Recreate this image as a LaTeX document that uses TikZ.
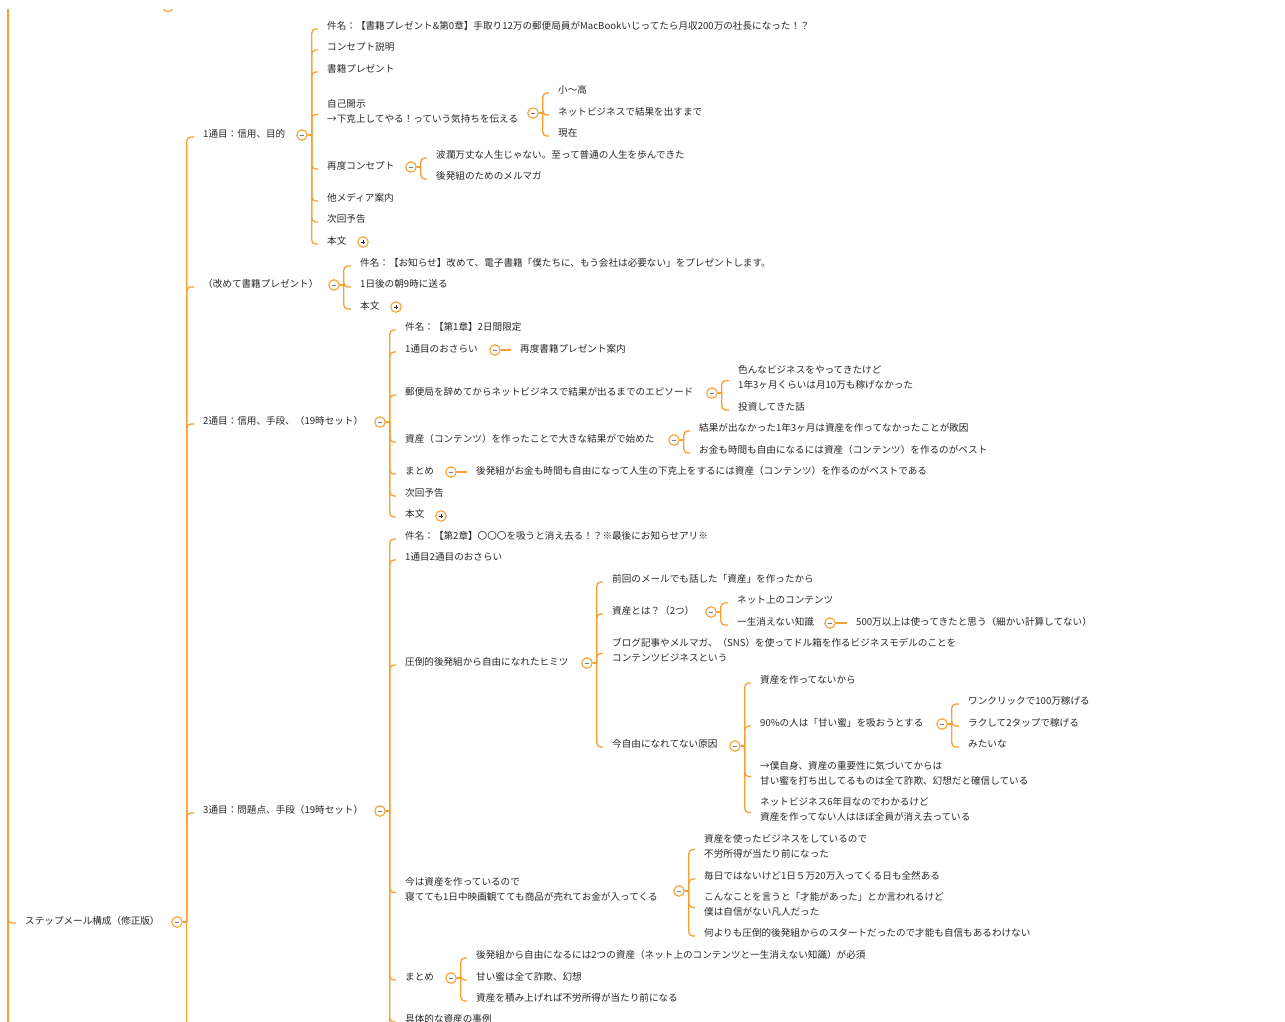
\documentclass[tikz,border=0pt]{standalone}
\usepackage{fontspec}
\setmainfont{Noto Sans CJK JP}
\usetikzlibrary{calc}
\definecolor{orng}{RGB}{247,160,48}
\definecolor{txtc}{RGB}{40,40,40}
\definecolor{minc}{RGB}{115,125,145}
\tikzset{
  txt/.style={font=\fontsize{9.6}{15}\selectfont, text=txtc, inner sep=0pt, anchor=west, align=left},
  ctl/.style={circle, draw=orng, fill=white, line width=1.1pt, minimum size=10.5pt, inner sep=0pt},
  minus/.style={ctl, path picture={\draw[minc, line width=0.8pt] ($(path picture bounding box.center)+(-2.4,0)$) -- ($(path picture bounding box.center)+(2.4,0)$);}},
  plus/.style={ctl, path picture={\draw[txtc, line width=0.8pt] ($(path picture bounding box.center)+(-2.4,0)$) -- ($(path picture bounding box.center)+(2.4,0)$) ($(path picture bounding box.center)+(0,-2.4)$) -- ($(path picture bounding box.center)+(0,2.4)$);}},
  link/.style={draw=orng, line width=1.3pt, rounded corners=4pt}
}
\newcommand\hub[1]{\draw[link] (#1.east) -- ($(#1.east)+(4,0)$);}
\newcommand\kid[2]{\draw[link] ($(#1.east)+(4,0)$) |- ($(#2.west)+(-9,3)$);}
\newcommand\single[2]{\draw[link] (#1.east) -- ($(#1.east -| #2.west)+(-9,0)$);}
\begin{document}
\begin{tikzpicture}[x=1pt,y=-1pt]
\useasboundingbox (0,0) rectangle (1285,1021);
\fill[white] (0,0) rectangle (1285,1021);

% outer trunk and partial node at top
\coordinate (topL) at (8,9);
\coordinate (botL) at (8,1030);
\begin{scope}
\clip (0,9) rectangle (1285,1021);
\node[ctl] (ctop) at (168,6.5) {};
\end{scope}

% root
\node[txt] (root) at (25,921) {ステップメール構成（修正版）};
\node[minus] (croot) at (177,922) {};
\draw[link] (topL) -- (botL);
\draw[link] (topL) |- ($(root.west)+(-9,2)$);
\hub{croot}
\coordinate (bot1) at (0,1030);
\draw[link] ($(croot.east)+(4,0)$) -- ($(croot.east |- bot1)+(4,0)$);

% level 1
\node[txt] (a1) at (203,134) {1通目：信用、目的};
\node[minus] (ca1) at (302,135) {};
\node[txt] (a2) at (203,284) {（改めて書籍プレゼント）};
\node[minus] (ca2) at (334,285) {};
\node[txt] (a3) at (203,421) {2通目：信用、手段、（19時セット）};
\node[minus] (ca3) at (380,422) {};
\node[txt] (a4) at (203,810) {3通目：問題点、手段（19時セット）};
\node[minus] (ca4) at (380,811) {};
\kid{croot}{a1}\kid{croot}{a2}\kid{croot}{a3}\kid{croot}{a4}

% ---- 1通目
\node[txt] (b1) at (327,26) {件名：【書籍プレゼント\&第0章】手取り12万の郵便局員がMacBookいじってたら月収200万の社長になった！？};
\node[txt] (b2) at (327,47) {コンセプト説明};
\node[txt] (b3) at (327,69) {書籍プレゼント};
\node[txt] (b4) at (327,111.5) {自己開示\\→下克上してやる！っていう気持ちを伝える};
\node[minus] (cb4) at (533,113) {};
\node[txt] (b41) at (558,90) {小〜高};
\node[txt] (b42) at (558,112) {ネットビジネスで結果を出すまで};
\node[txt] (b43) at (558,133) {現在};
\node[txt] (b5) at (327,166) {再度コンセプト};
\node[minus] (cb5) at (411,167) {};
\node[txt] (b51) at (436,155) {波瀾万丈な人生じゃない。至って普通の人生を歩んできた};
\node[txt] (b52) at (436,176) {後発組のためのメルマガ};
\node[txt] (b6) at (327,198) {他メディア案内};
\node[txt] (b7) at (327,219) {次回予告};
\node[txt] (b8) at (327,241) {本文};
\node[plus] (cb8) at (363,242) {};
\hub{ca1}
\kid{ca1}{b1}\kid{ca1}{b2}\kid{ca1}{b3}\kid{ca1}{b4}\kid{ca1}{b5}\kid{ca1}{b6}\kid{ca1}{b7}\kid{ca1}{b8}
\hub{cb4}\kid{cb4}{b41}\kid{cb4}{b42}\kid{cb4}{b43}
\hub{cb5}\kid{cb5}{b51}\kid{cb5}{b52}

% ---- 改めて書籍プレゼント
\node[txt] (d1) at (360,263) {件名：【お知らせ】改めて、電子書籍「僕たちに、もう会社は必要ない」をプレゼントします。};
\node[txt] (d2) at (360,284) {1日後の朝9時に送る};
\node[txt] (d3) at (360,306) {本文};
\node[plus] (cd3) at (396,307) {};
\hub{ca2}\kid{ca2}{d1}\kid{ca2}{d2}\kid{ca2}{d3}

% ---- 2通目
\node[txt] (e1) at (405,327) {件名：【第1章】2日間限定};
\node[txt] (e2) at (405,349) {1通目のおさらい};
\node[minus] (ce2) at (495,350) {};
\node[txt] (e21) at (520,349) {再度書籍プレゼント案内};
\node[txt] (e3) at (405,392) {郵便局を辞めてからネットビジネスで結果が出るまでのエピソード};
\node[minus] (ce3) at (712,393) {};
\node[txt] (e31) at (738,377.5) {色んなビジネスをやってきたけど\\1年3ヶ月くらいは月10万も稼げなかった};
\node[txt] (e32) at (738,407) {投資してきた話};
\node[txt] (e4) at (405,439) {資産（コンテンツ）を作ったことで大きな結果がで始めた};
\node[minus] (ce4) at (674,440) {};
\node[txt] (e41) at (699,428) {結果が出なかった1年3ヶ月は資産を作ってなかったことが敗因};
\node[txt] (e42) at (699,450) {お金も時間も自由になるには資産（コンテンツ）を作るのがベスト};
\node[txt] (e5) at (405,471) {まとめ};
\node[minus] (ce5) at (451,472) {};
\node[txt] (e51) at (476,471) {後発組がお金も時間も自由になって人生の下克上をするには資産（コンテンツ）を作るのがベストである};
\node[txt] (e6) at (405,493) {次回予告};
\node[txt] (e7) at (405,514) {本文};
\node[plus] (ce7) at (441,516) {};
\hub{ca3}
\kid{ca3}{e1}\kid{ca3}{e2}\kid{ca3}{e3}\kid{ca3}{e4}\kid{ca3}{e5}\kid{ca3}{e6}\kid{ca3}{e7}
\single{ce2}{e21}
\hub{ce3}\kid{ce3}{e31}\kid{ce3}{e32}
\hub{ce4}\kid{ce4}{e41}\kid{ce4}{e42}
\single{ce5}{e51}

% ---- 3通目
\node[txt] (f1) at (405,536) {件名：【第2章】〇〇〇を吸うと消え去る！？※最後にお知らせアリ※};
\node[txt] (f2) at (405,557) {1通目2通目のおさらい};
\node[txt] (f3) at (405,662) {圧倒的後発組から自由になれたヒミツ};
\node[minus] (cf3) at (587,663) {};
\node[txt] (f31) at (612,579) {前回のメールでも話した「資産」を作ったから};
\node[txt] (f32) at (612,611) {資産とは？（2つ）};
\node[minus] (cf32) at (711,612) {};
\node[txt] (f321) at (737,600) {ネット上のコンテンツ};
\node[txt] (f322) at (737,622) {一生消えない知識};
\node[minus] (cf322) at (830,623) {};
\node[txt] (f3221) at (856,622) {500万以上は使ってきたと思う（細かい計算してない）};
\node[txt] (f33) at (612,650.5) {ブログ記事やメルマガ、（SNS）を使ってドル箱を作るビジネスモデルのことを\\コンテンツビジネスという};
\node[txt] (f34) at (612,744) {今自由になれてない原因};
\node[minus] (cf34) at (735,746) {};
\node[txt] (f341) at (760,680) {資産を作ってないから};
\node[txt] (f342) at (760,723) {90\%の人は「甘い蜜」を吸おうとする};
\node[minus] (cf342) at (942,724) {};
\node[txt] (f3421) at (968,701) {ワンクリックで100万稼げる};
\node[txt] (f3422) at (968,723) {ラクして2タップで稼げる};
\node[txt] (f3423) at (968,744) {みたいな};
\node[txt] (f343) at (760,773.5) {→僕自身、資産の重要性に気づいてからは\\甘い蜜を打ち出してるものは全て詐欺、幻想だと確信している};
\node[txt] (f344) at (760,809.5) {ネットビジネス6年目なのでわかるけど\\資産を作ってない人はほぼ全員が消え去っている};
\node[txt] (f4) at (405,889.5) {今は資産を作っているので\\寝てても1日中映画観てても商品が売れてお金が入ってくる};
\node[minus] (cf4) at (679,891) {};
\node[txt] (f41) at (704,846.5) {資産を使ったビジネスをしているので\\不労所得が当たり前になった};
\node[txt] (f42) at (704,876) {毎日ではないけど1日５万20万入ってくる日も全然ある};
\node[txt] (f43) at (704,904.5) {こんなことを言うと「才能があった」とか言われるけど\\僕は自信がない凡人だった};
\node[txt] (f44) at (704,933) {何よりも圧倒的後発組からのスタートだったので才能も自信もあるわけない};
\node[txt] (f5) at (405,977) {まとめ};
\node[minus] (cf5) at (451,978) {};
\node[txt] (f51) at (476,955) {後発組から自由になるには2つの資産（ネット上のコンテンツと一生消えない知識）が必須};
\node[txt] (f52) at (476,977) {甘い蜜は全て詐欺、幻想};
\node[txt] (f53) at (476,998) {資産を積み上げれば不労所得が当たり前になる};
\node[txt] (f6) at (405,1019) {具体的な資産の事例};
\coordinate (bot4) at (0,1040);
\hub{ca4}
\kid{ca4}{f1}\kid{ca4}{f2}\kid{ca4}{f3}\kid{ca4}{f4}\kid{ca4}{f5}\kid{ca4}{f6}
\draw[link] ($(ca4.east)+(4,0)$) -- ($(ca4.east |- bot4)+(4,0)$);
\hub{cf3}\kid{cf3}{f31}\kid{cf3}{f32}\kid{cf3}{f33}\kid{cf3}{f34}
\hub{cf32}\kid{cf32}{f321}\kid{cf32}{f322}
\single{cf322}{f3221}
\hub{cf34}\kid{cf34}{f341}\kid{cf34}{f342}\kid{cf34}{f343}\kid{cf34}{f344}
\hub{cf342}\kid{cf342}{f3421}\kid{cf342}{f3422}\kid{cf342}{f3423}
\hub{cf4}\kid{cf4}{f41}\kid{cf4}{f42}\kid{cf4}{f43}\kid{cf4}{f44}
\hub{cf5}\kid{cf5}{f51}\kid{cf5}{f52}\kid{cf5}{f53}
\end{tikzpicture}
\end{document}
